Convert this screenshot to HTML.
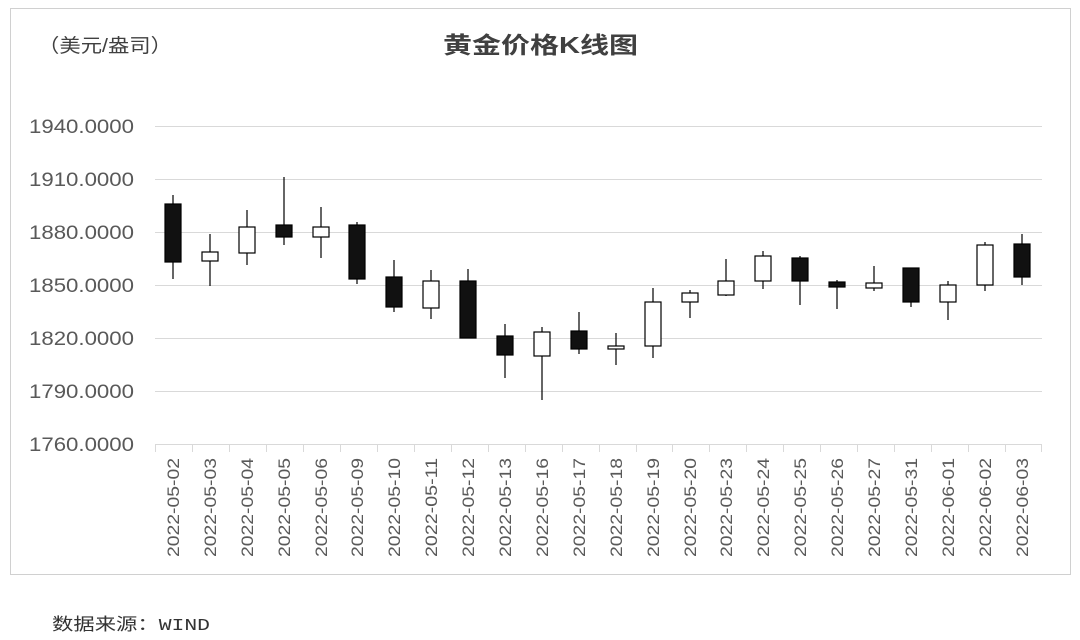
<!DOCTYPE html>
<html><head><meta charset="utf-8"><style>
body{margin:0;background:#fff;}
svg{display:block;font-family:"Liberation Sans","Noto Sans CJK SC",sans-serif;}
</style></head><body>
<svg width="1080" height="640" viewBox="0 0 1080 640">
<rect x="10.5" y="8.5" width="1060" height="566" fill="#fff" stroke="#d0d0d0"/>
<text x="38" y="52" font-size="19" fill="#404040" textLength="134" lengthAdjust="spacingAndGlyphs">（美元/盎司）</text>
<text x="443" y="53" font-size="23" font-weight="bold" fill="#404040" textLength="195" lengthAdjust="spacingAndGlyphs">黄金价格K线图</text>
<g stroke="#d9d9d9" stroke-width="1">
<line x1="155" y1="126.5" x2="1042" y2="126.5"/><line x1="155" y1="179.5" x2="1042" y2="179.5"/>
<line x1="155" y1="232.5" x2="1042" y2="232.5"/><line x1="155" y1="285.5" x2="1042" y2="285.5"/>
<line x1="155" y1="338.5" x2="1042" y2="338.5"/><line x1="155" y1="391.5" x2="1042" y2="391.5"/>
<line x1="155" y1="444.5" x2="1042" y2="444.5"/>
<path d="M155.5 444v8M192.5 444v8M229.5 444v8M266.5 444v8M303.5 444v8M340.5 444v8M377.5 444v8M414.5 444v8M451.5 444v8M488.5 444v8M525.5 444v8M562.5 444v8M599.5 444v8M636.5 444v8M672.5 444v8M709.5 444v8M746.5 444v8M783.5 444v8M820.5 444v8M857.5 444v8M894.5 444v8M931.5 444v8M968.5 444v8M1005.5 444v8M1041.5 444v8"/>
</g>
<g font-size="19" fill="#595959" text-anchor="end">
<text x="134" y="133" textLength="105" lengthAdjust="spacingAndGlyphs">1940.0000</text><text x="134" y="186" textLength="105" lengthAdjust="spacingAndGlyphs">1910.0000</text>
<text x="134" y="239" textLength="105" lengthAdjust="spacingAndGlyphs">1880.0000</text><text x="134" y="292" textLength="105" lengthAdjust="spacingAndGlyphs">1850.0000</text>
<text x="134" y="345" textLength="105" lengthAdjust="spacingAndGlyphs">1820.0000</text><text x="134" y="398" textLength="105" lengthAdjust="spacingAndGlyphs">1790.0000</text>
<text x="134" y="451" textLength="105" lengthAdjust="spacingAndGlyphs">1760.0000</text>
</g>
<g font-size="17" fill="#595959" text-anchor="end">
<text transform="translate(179,458) rotate(-90)" textLength="99" lengthAdjust="spacingAndGlyphs">2022-05-02</text>
<text transform="translate(216,458) rotate(-90)" textLength="99" lengthAdjust="spacingAndGlyphs">2022-05-03</text>
<text transform="translate(253,458) rotate(-90)" textLength="99" lengthAdjust="spacingAndGlyphs">2022-05-04</text>
<text transform="translate(290,458) rotate(-90)" textLength="99" lengthAdjust="spacingAndGlyphs">2022-05-05</text>
<text transform="translate(327,458) rotate(-90)" textLength="99" lengthAdjust="spacingAndGlyphs">2022-05-06</text>
<text transform="translate(363,458) rotate(-90)" textLength="99" lengthAdjust="spacingAndGlyphs">2022-05-09</text>
<text transform="translate(400,458) rotate(-90)" textLength="99" lengthAdjust="spacingAndGlyphs">2022-05-10</text>
<text transform="translate(437,458) rotate(-90)" textLength="99" lengthAdjust="spacingAndGlyphs">2022-05-11</text>
<text transform="translate(474,458) rotate(-90)" textLength="99" lengthAdjust="spacingAndGlyphs">2022-05-12</text>
<text transform="translate(511,458) rotate(-90)" textLength="99" lengthAdjust="spacingAndGlyphs">2022-05-13</text>
<text transform="translate(548,458) rotate(-90)" textLength="99" lengthAdjust="spacingAndGlyphs">2022-05-16</text>
<text transform="translate(585,458) rotate(-90)" textLength="99" lengthAdjust="spacingAndGlyphs">2022-05-17</text>
<text transform="translate(622,458) rotate(-90)" textLength="99" lengthAdjust="spacingAndGlyphs">2022-05-18</text>
<text transform="translate(659,458) rotate(-90)" textLength="99" lengthAdjust="spacingAndGlyphs">2022-05-19</text>
<text transform="translate(696,458) rotate(-90)" textLength="99" lengthAdjust="spacingAndGlyphs">2022-05-20</text>
<text transform="translate(732,458) rotate(-90)" textLength="99" lengthAdjust="spacingAndGlyphs">2022-05-23</text>
<text transform="translate(769,458) rotate(-90)" textLength="99" lengthAdjust="spacingAndGlyphs">2022-05-24</text>
<text transform="translate(806,458) rotate(-90)" textLength="99" lengthAdjust="spacingAndGlyphs">2022-05-25</text>
<text transform="translate(843,458) rotate(-90)" textLength="99" lengthAdjust="spacingAndGlyphs">2022-05-26</text>
<text transform="translate(880,458) rotate(-90)" textLength="99" lengthAdjust="spacingAndGlyphs">2022-05-27</text>
<text transform="translate(917,458) rotate(-90)" textLength="99" lengthAdjust="spacingAndGlyphs">2022-05-31</text>
<text transform="translate(954,458) rotate(-90)" textLength="99" lengthAdjust="spacingAndGlyphs">2022-06-01</text>
<text transform="translate(991,458) rotate(-90)" textLength="99" lengthAdjust="spacingAndGlyphs">2022-06-02</text>
<text transform="translate(1028,458) rotate(-90)" textLength="99" lengthAdjust="spacingAndGlyphs">2022-06-03</text>
</g>
<g stroke="#000" stroke-width="1.2">
<path d="M173 195V279M210 234V286M247 210V265M284 177V245M321 207V258M357 222V284M394 260V312M431 270V319M468 269V338M505 324V378M542 327V400M579 312V354M616 333V365M653 288V358M690 290V318M726 259V296M763 251V289M800 256V305M837 280V309M874 266V291M911 268V307M948 281V320M985 242V291M1022 234V285"/>
</g>
<g stroke="#000" stroke-width="1.2">
<rect x="165" y="204" width="16" height="58" fill="#111"/>
<rect x="202" y="252" width="16" height="9" fill="#fff"/>
<rect x="239" y="227" width="16" height="26" fill="#fff"/>
<rect x="276" y="225" width="16" height="12" fill="#111"/>
<rect x="313" y="227" width="16" height="10" fill="#fff"/>
<rect x="349" y="225" width="16" height="54" fill="#111"/>
<rect x="386" y="277" width="16" height="30" fill="#111"/>
<rect x="423" y="281" width="16" height="27" fill="#fff"/>
<rect x="460" y="281" width="16" height="57" fill="#111"/>
<rect x="497" y="336" width="16" height="19" fill="#111"/>
<rect x="534" y="332" width="16" height="24" fill="#fff"/>
<rect x="571" y="331" width="16" height="18" fill="#111"/>
<rect x="608" y="346" width="16" height="3" fill="#fff"/>
<rect x="645" y="302" width="16" height="44" fill="#fff"/>
<rect x="682" y="293" width="16" height="9" fill="#fff"/>
<rect x="718" y="281" width="16" height="14" fill="#fff"/>
<rect x="755" y="256" width="16" height="25" fill="#fff"/>
<rect x="792" y="258" width="16" height="23" fill="#111"/>
<rect x="829" y="282" width="16" height="5" fill="#111"/>
<rect x="866" y="283" width="16" height="5" fill="#fff"/>
<rect x="903" y="268" width="16" height="34" fill="#111"/>
<rect x="940" y="285" width="16" height="17" fill="#fff"/>
<rect x="977" y="245" width="16" height="40" fill="#fff"/>
<rect x="1014" y="244" width="16" height="33" fill="#111"/>
</g>
<text x="52" y="630" font-size="17" fill="#333" font-family="'Liberation Mono','Noto Sans CJK SC',monospace" textLength="158" lengthAdjust="spacingAndGlyphs">数据来源：WIND</text>
</svg>
</body></html>
